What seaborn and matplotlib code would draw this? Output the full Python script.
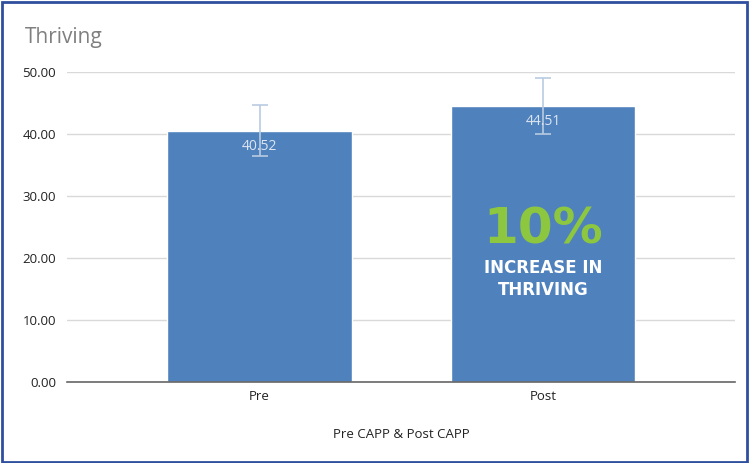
import matplotlib.pyplot as plt
import seaborn as sns
import pandas as pd
from matplotlib.patches import Rectangle

sns.set_style("white")
plt.rcParams['font.family'] = ['Open Sans', 'DejaVu Sans']

# Data
groups = ['Pre', 'Post']
means = [40.52, 44.51]
errors = [4.1, 4.5]
y_ticks = [0, 10, 20, 30, 40, 50]

df = pd.DataFrame({'Group': groups, 'Thriving': means})

bar_color = '#4f81bd'

fig = plt.figure(figsize=(7.53, 4.63), dpi=100)
ax = fig.add_axes([0.089, 0.175, 0.887, 0.6695])

sns.barplot(x='Group', y='Thriving', data=df, color=bar_color,
            width=0.65, saturation=1, errorbar=None, ax=ax, zorder=2)

# Error bars
ax.errorbar(range(len(groups)), df['Thriving'], yerr=errors, fmt='none',
            ecolor='#b9cbe0', elinewidth=1.2, capsize=6, capthick=1.2,
            zorder=3, clip_on=False)

# Value labels inside bars
for i, v in enumerate(df['Thriving']):
    ax.text(i, v - 1.3, f'{v:.2f}', ha='center', va='top',
            color='#dce6f2', fontsize=10, zorder=4)

# Annotation on Post bar
ax.text(1, 24.6, '10%', ha='center', va='center', color='#8dc63f',
        fontsize=36, fontweight='heavy', family='DejaVu Sans', zorder=4)
ax.text(1, 16.6, 'INCREASE IN\nTHRIVING', ha='center', va='center',
        color='white', fontsize=12, fontweight='bold', family='DejaVu Sans',
        linespacing=1.25, zorder=4)

# Axes styling
ax.set_ylim(0, 50)
ax.set_xlim(-0.679, 1.677)
ax.set_yticks(y_ticks)
ax.set_yticklabels([f'{t:.2f}' for t in y_ticks], fontsize=9.5, color='#222222')
ax.tick_params(axis='x', labelsize=9.5, colors='#222222', length=0, pad=6)
ax.tick_params(axis='y', length=0, pad=8)
ax.yaxis.grid(True, color='#d9d9d9', linewidth=1)
ax.set_axisbelow(True)
for s in ['top', 'right', 'left']:
    ax.spines[s].set_visible(False)
ax.spines['bottom'].set_color('#666666')
ax.spines['bottom'].set_linewidth(1.2)
ax.set_ylabel(None)
ax.set_xlabel('Pre CAPP & Post CAPP', fontsize=9.5, color='#222222', labelpad=18)

# Title
fig.text(0.033, 0.918, 'Thriving', fontsize=15, color='#7f7f7f',
         ha='left', va='center')

# Blue frame around figure
fig.patches.append(Rectangle((0.002, 0.002), 0.99, 0.994, transform=fig.transFigure,
                             fill=False, edgecolor='#2f4f9f', linewidth=2))

plt.savefig('out.png', dpi=100)
